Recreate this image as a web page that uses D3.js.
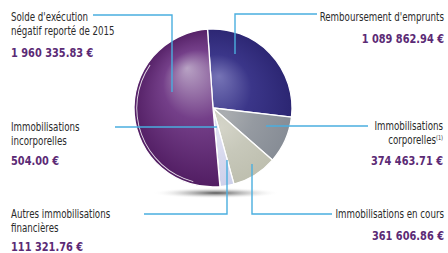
<!DOCTYPE html>
<html>
<head>
<meta charset="utf-8">
<script src="https://cdn.jsdelivr.net/npm/d3@7"></script>
<style>
  html, body { margin: 0; padding: 0; background: #fff; }
  svg { display: block; }
  text { font-family: "Liberation Sans Narrow", "DejaVu Sans Condensed", "Roboto", sans-serif; }
  .lbl { font-size: 11.5px; fill: #2b2b2b; }
  .val { font-size: 13px; font-weight: bold; fill: #5b2a75; }
</style>
</head>
<body>
<svg width="448" height="253"></svg>
<script>
// slices, clockwise from the top
const categories = [
  "Remboursement d'emprunts",
  "Immobilisations corporelles",
  "Immobilisations en cours",
  "Autres immobilisations financières",
  "Immobilisations incorporelles",
  "Solde d'exécution négatif reporté de 2015"
];
const amounts = [1089862.94, 374463.71, 361606.86, 111321.76, 504.00, 1960335.83];
const valueLabels = ["1 089 862.94 €", "374 463.71 €", "361 606.86 €", "111 321.76 €", "504.00 €", "1 960 335.83 €"];

// colours for each slice: [highlight, mid, edge]
const sliceColors = [
  ["#7674b6", "#3b3689", "#2a2470"],
  ["#aaadb0", "#959aa1", "#858b94"],
  ["#d4d4c8", "#c7c8ba", "#bdbeae"],
  ["#e0e0f2", "#d6d8ee", "#cdd0ea"],
  ["#d6d8ee", "#d6d8ee", "#d6d8ee"],
  ["#b8a2c4", "#743f89", "#4f1b60"]
];

const svg = d3.select("svg");
const cx = 213, cy = 108, radius = 79;
const squeeze = 0.84;   // condensed look for the labels

const defs = svg.append("defs");

// shadow under the pie
const sh = defs.append("radialGradient").attr("id", "shadow");
sh.append("stop").attr("offset", "0%").attr("stop-color", "#3a3a3a").attr("stop-opacity", 0.85);
sh.append("stop").attr("offset", "50%").attr("stop-color", "#888").attr("stop-opacity", 0.4);
sh.append("stop").attr("offset", "100%").attr("stop-color", "#fff").attr("stop-opacity", 0);
svg.append("ellipse")
  .attr("cx", cx + 3).attr("cy", cy + 85)
  .attr("rx", 64).attr("ry", 5.5)
  .attr("fill", "url(#shadow)");

// focal points of the shading per slice (relative to centre)
const focus = [[6, -32], [12, 6], [8, 20], [0, 30], [0, 30], [-26, -40]];

sliceColors.forEach((c, i) => {
  const g = defs.append("radialGradient")
    .attr("id", "g" + i)
    .attr("gradientUnits", "userSpaceOnUse")
    .attr("cx", 0).attr("cy", 0).attr("r", radius * 1.05)
    .attr("fx", focus[i][0]).attr("fy", focus[i][1]);
  g.append("stop").attr("offset", "0%").attr("stop-color", c[0]);
  g.append("stop").attr("offset", "42%").attr("stop-color", c[1]);
  g.append("stop").attr("offset", "100%").attr("stop-color", c[2]);
});

const pie = d3.pie()
  .sort(null)
  .startAngle(-4 * Math.PI / 180)
  .endAngle(356 * Math.PI / 180)
  .value(d => d);

const arc = d3.arc().innerRadius(0).outerRadius(radius);
const arcs = pie(amounts);

const chart = svg.append("g").attr("transform", `translate(${cx},${cy})`);

chart.selectAll("path.slice")
  .data(arcs)
  .enter()
  .append("path")
  .attr("class", "slice")
  .attr("d", arc)
  .attr("fill", (d, i) => `url(#g${i})`)
  .attr("stroke", "#fff")
  .attr("stroke-width", 1.3)
  .attr("stroke-linejoin", "round");

// thin white rim inside the big slice
const big = arcs[5];
chart.append("path")
  .attr("d", d3.arc()
    .innerRadius(radius - 3.2)
    .outerRadius(radius - 2.3)
    .startAngle(big.startAngle + 0.35)
    .endAngle(big.endAngle - 0.9)())
  .attr("fill", "#fff")
  .attr("opacity", 0.85);

// leader lines (layout only)
const leaders = [
  [[317, 14], [235, 14], [235, 54]],
  [[266, 126], [368, 126]],
  [[252, 164], [252, 214], [332, 214]],
  [[144, 214], [227, 214], [227, 160]],
  [[115, 127], [217, 127]],
  [[93, 15], [172, 15], [172, 92]]
];
svg.selectAll("path.leader")
  .data(leaders)
  .enter()
  .append("path")
  .attr("class", "leader")
  .attr("d", d3.line())
  .attr("fill", "none")
  .attr("stroke", "#4aaedf")
  .attr("stroke-width", 1.4);

// label layout: x, anchor, baselines for text lines, baseline for value
const labelLines = [
  ["Remboursement d'emprunts"],
  ["Immobilisations", "corporelles"],
  ["Immobilisations en cours"],
  ["Autres immobilisations", "financières"],
  ["Immobilisations", "incorporelles"],
  ["Solde d'exécution", "négatif reporté de 2015"]
];
const labelPos = [
  { x: 444, anchor: "end", y: 21, vy: 43 },
  { x: 443, anchor: "end", y: 130, vy: 165 },
  { x: 444, anchor: "end", y: 218, vy: 240 },
  { x: 11, anchor: "start", y: 218, vy: 251 },
  { x: 11, anchor: "start", y: 131, vy: 165 },
  { x: 11, anchor: "start", y: 21, vy: 57 }
];

labelLines.forEach((lines, i) => {
  const p = labelPos[i];
  const grp = svg.append("g").attr("transform", `translate(${p.x},0) scale(${squeeze},1)`);
  const t = grp.append("text")
    .attr("class", "lbl")
    .attr("text-anchor", p.anchor);
  lines.forEach((s, j) => {
    t.append("tspan").attr("x", 0).attr("y", p.y + j * 14.5).text(s);
    if (i === 1 && j === 1) {
      t.append("tspan").attr("dy", -4).style("font-size", "6.5px").text("(1)");
    }
  });
  grp.append("text")
    .attr("class", "val")
    .attr("x", 0)
    .attr("y", p.vy)
    .attr("text-anchor", p.anchor)
    .text(valueLabels[i]);
});
</script>
</body>
</html>
